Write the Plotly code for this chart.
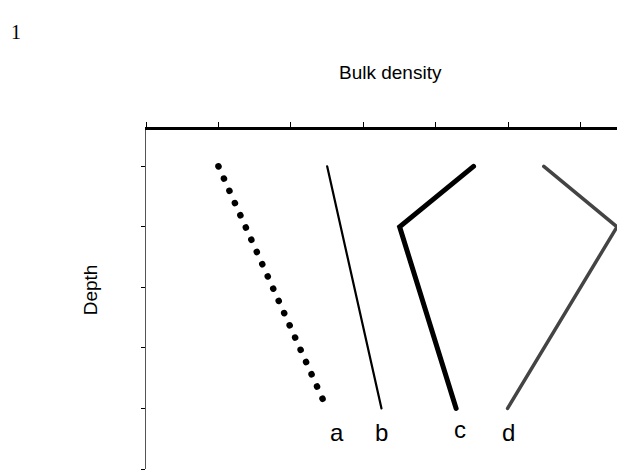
import plotly.graph_objects as go

# Data (bulk density on x, depth on y)
a_x = [1.0, 2.44]
a_y = [0.0, 3.85]
b_x = [2.5, 3.25]
b_y = [0.0, 4.0]
c_x = [4.52, 3.5, 4.28]
c_y = [0.0, 1.0, 4.0]
d_x = [5.49, 6.5, 4.99]
d_y = [0.0, 1.0, 4.0]
labels = ["a", "b", "c", "d"]
label_x = [2.63, 3.25, 4.34, 5.0]
label_y = [4.4, 4.4, 4.34, 4.4]
x_ticks = [0, 1, 2, 3, 4, 5, 6]
y_ticks = [0, 1, 2, 3, 4, 5]

fig = go.Figure()
fig.add_trace(go.Scatter(x=a_x, y=a_y, mode="lines", cliponaxis=False,
                         line=dict(color="black", width=6.5, dash="0.1px,13.3px")))
fig.add_trace(go.Scatter(x=b_x, y=b_y, mode="lines", cliponaxis=False,
                         line=dict(color="black", width=2.2)))
fig.add_trace(go.Scatter(x=c_x, y=c_y, mode="lines", cliponaxis=False,
                         line=dict(color="black", width=5)))
fig.add_trace(go.Scatter(x=d_x, y=d_y, mode="lines", cliponaxis=False,
                         line=dict(color="#444444", width=3.5)))

for t, lx, ly in zip(labels, label_x, label_y):
    fig.add_annotation(x=lx, y=ly, text=t, showarrow=False,
                       font=dict(family="Liberation Sans", size=24, color="black"))

fig.add_annotation(xref="paper", yref="paper", x=0.52, y=1.171, text="Bulk density",
                   showarrow=False, yanchor="middle",
                   font=dict(family="Liberation Sans", size=19, color="black"))
fig.add_annotation(xref="paper", yref="paper", x=-0.119, y=0.53, text="Depth",
                   textangle=-90, showarrow=False, xanchor="center", yanchor="middle",
                   font=dict(family="Liberation Sans", size=19, color="black"))
fig.add_annotation(xref="paper", yref="paper", x=-0.275, y=1.289, text="1",
                   showarrow=False, xanchor="center", yanchor="middle",
                   font=dict(family="Liberation Serif", size=20, color="black"))

fig.update_layout(
    width=629, height=473,
    margin=dict(l=146, r=12, t=130, b=4),
    paper_bgcolor="white", plot_bgcolor="white",
    showlegend=False,
    xaxis=dict(range=[0, 6.5], side="top", showgrid=False, zeroline=False,
               showline=True, linecolor="black", linewidth=2.5,
               ticks="outside", ticklen=5, tickwidth=1, tickcolor="black",
               tickvals=x_ticks, showticklabels=False),
    yaxis=dict(range=[5.0, -0.6], showgrid=False, zeroline=False,
               showline=True, linecolor="#555555", linewidth=1,
               ticks="outside", ticklen=4, tickwidth=1, tickcolor="black",
               tickvals=y_ticks, showticklabels=False),
)

post = ("document.body.style.margin='0';"
        "document.querySelectorAll('.scatterlayer .js-line').forEach(function(p){"
        "p.style.strokeLinecap='round';p.style.strokeLinejoin='miter';});")
fig.write_html("out.html", post_script=post, config={"displayModeBar": False})
